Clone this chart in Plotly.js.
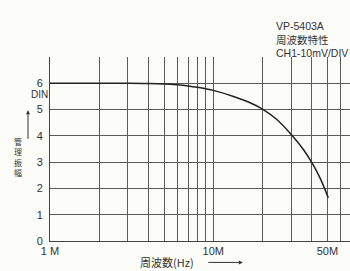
<!DOCTYPE html>
<html>
<head>
<meta charset="utf-8">
<script src="https://cdn.plot.ly/plotly-3.0.1.min.js"></script>
<style>html,body{margin:0;padding:0;background:#fcfcf8;}#chart{width:350px;height:271px;}</style>
</head>
<body>
<div id="chart"></div>
<script>
// Frequency response of VP-5403A (frequency in MHz, amplitude in DIV)
const freqMHz = [1, 2, 3, 4, 5, 6, 7, 8, 9, 10, 13.3, 16.8, 20, 24.4, 30, 35.6, 40.4, 45, 50.6];
const amplitude = [6.0, 6.0, 6.0, 5.99, 5.97, 5.94, 5.9, 5.85, 5.79, 5.73, 5.5, 5.26, 5.02, 4.63, 4.05, 3.48, 2.95, 2.4, 1.64];

const xGrid = [1, 2, 3, 4, 5, 6, 7, 8, 9, 10, 20, 30, 40, 50, 60];
const xGridText = ['1 M', '', '', '', '', '', '', '', '', '10M', '', '', '', '50M', ''];
const yTicks = [0, 1, 2, 3, 4, 5, 6];
const yTickText = ['0', '1', '2', '3', '4', '5', '6'];
const infoLines = ['VP-5403A', '周波数特性', 'CH1-10mV/DIV'];

const latinFont = '"Liberation Sans", Arial, sans-serif';
const cjkFont = '"Noto Sans CJK JP", "Noto Sans", sans-serif';
const txt = '#333';

const trace = {
  x: freqMHz, y: amplitude, type: 'scatter', mode: 'lines',
  line: {color: '#222', width: 1.5, shape: 'spline', smoothing: 1},
  hoverinfo: 'skip', showlegend: false
};

const annotations = [
  {xref: 'paper', yref: 'y', x: 0, y: 5.58, xanchor: 'right', yanchor: 'middle', xshift: -1,
   text: 'DIN', showarrow: false, font: {family: latinFont, size: 10, color: txt}, borderpad: 0},
  {xref: 'paper', yref: 'y', x: -0.0733, y: 4.97, ax: 0, ay: 30, text: '', showarrow: true,
   arrowhead: 2, arrowsize: 0.8, arrowwidth: 1, arrowcolor: '#333'},
  {xref: 'paper', yref: 'paper', x: -0.107, y: (241.5 - 157) / 184.5, xanchor: 'center', yanchor: 'middle',
   text: '管<br>理<br>振<br>幅', showarrow: false, font: {family: cjkFont, size: 8, color: txt}, borderpad: 0},
  {xref: 'paper', yref: 'paper', x: 0.39, y: -0.1165, xanchor: 'center', yanchor: 'middle',
   text: '周波数(Hz)', showarrow: false, font: {family: cjkFont, size: 11, color: txt}},
  {xref: 'paper', yref: 'paper', x: 0.643, y: -0.1165, ax: -36, ay: 0, text: '', showarrow: true,
   arrowhead: 2, arrowsize: 0.8, arrowwidth: 1, arrowcolor: '#333'}
];
// top-right caption, one annotation per line
infoLines.forEach(function (s, i) {
  annotations.push({xref: 'paper', yref: 'paper', x: 0.75, y: (241.5 - (26 + 13.3 * i)) / 184.5,
    xanchor: 'left', yanchor: 'middle', text: s, showarrow: false,
    font: {family: i === 1 ? cjkFont : latinFont, size: 10.5, color: txt}, borderpad: 0});
});

const layout = {
  width: 350, height: 271,
  margin: {l: 50, r: 0, t: 57, b: 30},
  paper_bgcolor: '#fcfcf8', plot_bgcolor: '#fcfcf8',
  font: {family: latinFont, size: 11, color: txt},
  showlegend: false,
  xaxis: {
    type: 'log', range: [0, 1.837],
    tickmode: 'array', tickvals: xGrid, ticktext: xGridText,
    showgrid: true, gridcolor: '#5a5a5a', gridwidth: 1,
    zeroline: false, showline: true, linecolor: '#444', linewidth: 1,
    ticks: '', tickfont: {family: latinFont, size: 11, color: txt}, fixedrange: true
  },
  yaxis: {
    range: [0, 7],
    tickmode: 'array', tickvals: yTicks, ticktext: yTickText,
    showgrid: true, gridcolor: '#5a5a5a', gridwidth: 1,
    zeroline: false, showline: true, linecolor: '#444', linewidth: 1,
    ticks: '', ticklabelstandoff: 4, tickfont: {family: latinFont, size: 11, color: txt}, fixedrange: true
  },
  annotations: annotations
};

Plotly.newPlot('chart', [trace], layout, {staticPlot: true, displayModeBar: false});
</script>
</body>
</html>
